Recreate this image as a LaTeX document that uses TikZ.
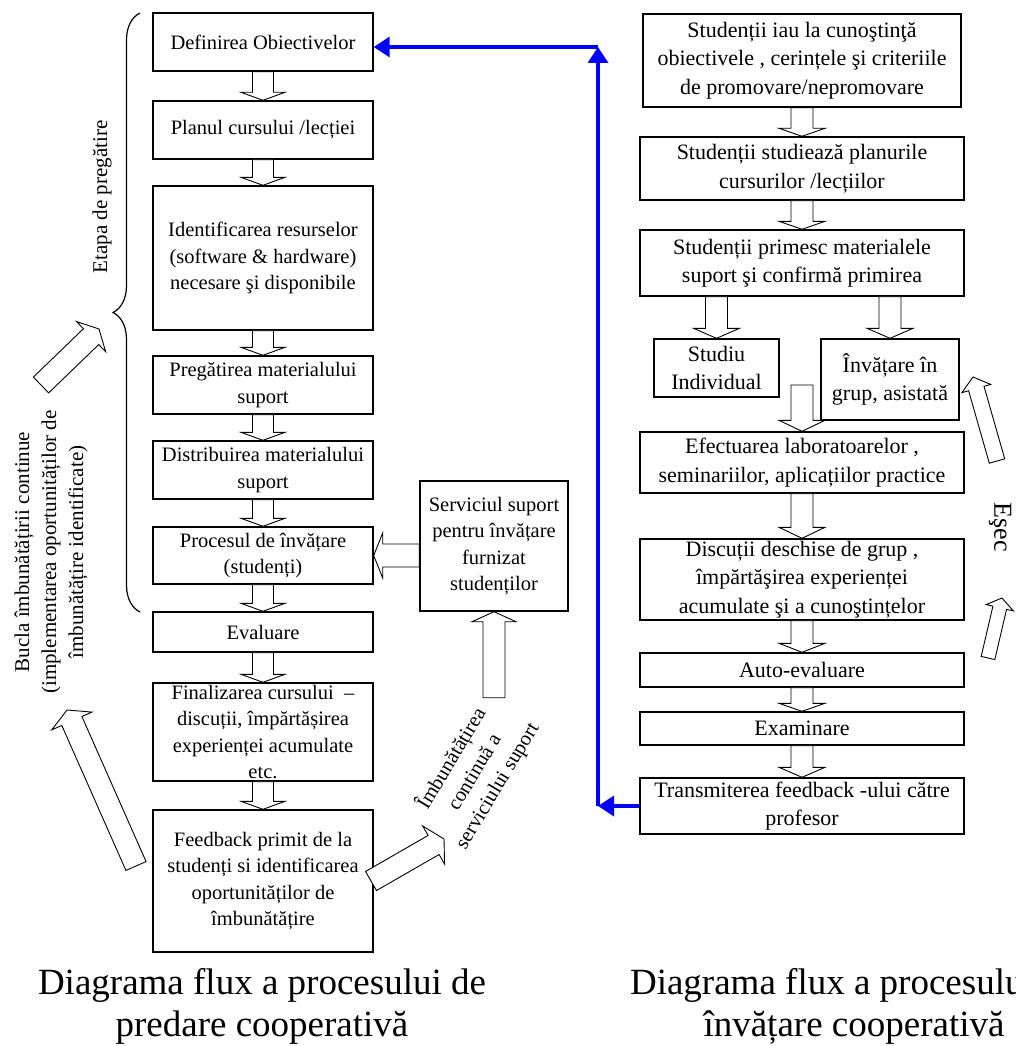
\documentclass[tikz,border=0pt]{standalone}
\usepackage{fontspec}
\setmainfont{Liberation Serif}
\usetikzlibrary{calc,positioning,arrows.meta,decorations.pathreplacing}

\newcommand{\blockarrow}[5]{%
  \coordinate (ba) at ($(#2)!#5pt!(#1)$);
  \draw[blockline] ($(#1)!#3pt!90:(#2)$) -- ($(ba)!#3pt!90:(#2)$) -- ($(ba)!#4pt!90:(#2)$) -- (#2)
    -- ($(ba)!#4pt!-90:(#2)$) -- ($(ba)!#3pt!-90:(#2)$) -- ($(#1)!#3pt!-90:(#2)$) -- cycle;}

\begin{document}
\begin{tikzpicture}[x=1pt, y=-1pt,
  lbox/.style={draw, line width=1.4pt, minimum width=220pt, inner sep=0pt, align=center, font=\fontsize{20.5}{26.5}\selectfont},
  rbox/.style={draw, line width=1.4pt, minimum width=324pt, inner sep=0pt, align=center, font=\fontsize{22}{28.5}\selectfont},
  blockline/.style={draw, fill=white, line width=0.9pt, line join=miter},
  blueline/.style={draw=blue, line width=3.5pt, -{Triangle[length=16pt,width=20pt]}},
  side/.style={align=center, font=\fontsize{21}{27}\selectfont},
  caption/.style={align=center, font=\fontsize{37}{42}\selectfont}]
\useasboundingbox (0,0) rectangle (1015,1046);
\clip (0,0) rectangle (1015,1046);

\node[lbox, minimum height=58pt] (def) at (263,42) {Definirea Obiectivelor};
\node[lbox, minimum height=58pt] (plan) at (263,130) {Planul cursului /lecției};
\node[lbox, minimum height=144pt] (ident) at (263,258) {Identificarea resurselor\\(software \& hardware)\\necesare şi disponibile};
\node[lbox, minimum height=58pt] (prep) at (263,385) {Pregătirea materialului\\suport};
\node[lbox, minimum height=58pt] (distr) at (263,470) {Distribuirea materialului\\suport};
\node[lbox, minimum height=57pt] (proc) at (263,555.5) {Procesul de învățare\\(studenți)};
\node[lbox, minimum height=40pt] (eval) at (263,632) {Evaluare};
\node[lbox, minimum height=98pt] (final) at (263,732) {Finalizarea cursului \ –\\discuții, împărtășirea\\experienței acumulate\\etc.};
\node[lbox, minimum height=142pt] (feedb) at (263,881) {Feedback primit de la\\studenți si identificarea\\oportunităților de\\îmbunătățire};
\node[lbox, minimum width=148pt, minimum height=130pt] (serv) at (494,546) {Serviciul suport\\pentru învățare\\furnizat\\studenților};

\node[rbox, minimum width=318pt, minimum height=93pt] (know) at (802,60.5) {Studenții iau la cunoştinţă\\obiectivele , cerințele şi criteriile\\de promovare/nepromovare};
\node[rbox, minimum height=63pt] (plans) at (802,168.5) {Studenții studiează planurile\\cursurilor /lecțiilor};
\node[rbox, minimum height=66pt] (receive) at (802,263) {Studenții primesc materialele\\suport şi confirmă primirea};
\node[rbox, minimum width=125pt, minimum height=58pt] (indiv) at (716.5,368) {Studiu\\Individual};
\node[rbox, minimum width=138pt, minimum height=81pt] (group) at (890,379.5) {Învățare în\\grup, asistată};
\node[rbox, minimum height=61pt] (labs) at (802,462.5) {Efectuarea laboratoarelor ,\\seminariilor, aplicațiilor practice};
\node[rbox, minimum height=81pt] (discuss) at (802,579.5) {Discuții deschise de grup ,\\împărtăşirea experienței\\acumulate şi a cunoştințelor};
\node[rbox, minimum height=34pt] (self) at (802,670) {Auto-evaluare};
\node[rbox, minimum height=33pt] (exam) at (802,728.5) {Examinare};
\node[rbox, minimum height=56pt] (transmit) at (802,806) {Transmiterea feedback -ului către\\profesor};

\node[side, rotate=90] (stage) at (102,197) {Etapa de pregătire};
\node[side, rotate=90] (loop) at (51,552) {Bucla îmbunătățirii continue\\(implementarea oportunităților de\\îmbunătățire identificate)};
\node[side, font=\fontsize{20.5}{26.5}\selectfont, rotate=59] (supimp) at (474,772) {Îmbunătățirea\\continuă a\\serviciului suport};
\node[font=\fontsize{26}{30}\selectfont, rotate=-90] (fail) at (1000,527) {Eşec};

\node[caption] (capl) at (262,1006) {Diagrama flux a procesului de\\predare cooperativă};
\node[caption] (capr) at (854,1006) {Diagrama flux a procesului de\\învățare cooperativă};

\draw[decorate, decoration={brace, amplitude=27pt}, line width=1.2pt] (140,612) -- (140,13);

\blockarrow{def.south}{plan.north}{10.5}{22}{8}
\blockarrow{plan.south}{ident.north}{10.5}{22}{8}
\blockarrow{ident.south}{prep.north}{10.5}{22}{8}
\blockarrow{prep.south}{distr.north}{10.5}{22}{8}
\blockarrow{distr.south}{proc.north}{10.5}{22}{8}
\blockarrow{proc.south}{eval.north}{10.5}{22}{8}
\blockarrow{eval.south}{final.north}{10.5}{22}{8}
\blockarrow{final.south}{feedb.north}{10.5}{22}{8}

\coordinate (procin) at (serv.west |- proc.east);
\blockarrow{procin}{proc.east}{11.5}{22.5}{9}
\coordinate (supin) at ($(serv.south)+(0,86)$);
\blockarrow{supin}{serv.south}{11}{22}{10}

\coordinate (loopa) at (136,866);
\coordinate (loopb) at (67,710);
\blockarrow{loopa}{loopb}{11}{22}{12}
\coordinate (stagea) at (41,385);
\coordinate (stageb) at (99,329);
\blockarrow{stagea}{stageb}{11}{21}{11}
\coordinate (suppa) at (371,881);
\coordinate (suppb) at (444,839);
\blockarrow{suppa}{suppb}{11}{22}{12}

\blockarrow{know.south}{plans.north}{11}{23}{8}
\blockarrow{plans.south}{receive.north}{11}{23}{8}
\coordinate (indivtop) at (receive.south -| indiv.north);
\coordinate (grouptop) at (receive.south -| group.north);
\blockarrow{indivtop}{indiv.north}{11}{23}{10}
\blockarrow{grouptop}{group.north}{11}{23}{10}
\coordinate (merge) at (802,385);
\blockarrow{merge}{labs.north}{11}{23}{11}
\blockarrow{labs.south}{discuss.north}{11}{23}{11}
\blockarrow{discuss.south}{self.north}{11}{23}{9}
\blockarrow{self.south}{exam.north}{11}{23}{8}
\blockarrow{exam.south}{transmit.north}{11}{23}{10}

\coordinate (faila) at (997,461);
\coordinate (failb) at (973,377);
\blockarrow{faila}{failb}{8}{15}{12}
\coordinate (failc) at (988,658);
\coordinate (faild) at (1002,598);
\blockarrow{failc}{faild}{7}{14}{10}

\coordinate (bl1) at (598,806);
\coordinate (bl2) at (598,47);
\draw[blueline] (transmit.west) -- (bl1);
\draw[blueline] (bl1) -- (bl2);
\draw[blueline] (bl2) -- (bl2 -| def.east);
\end{tikzpicture}
\end{document}
